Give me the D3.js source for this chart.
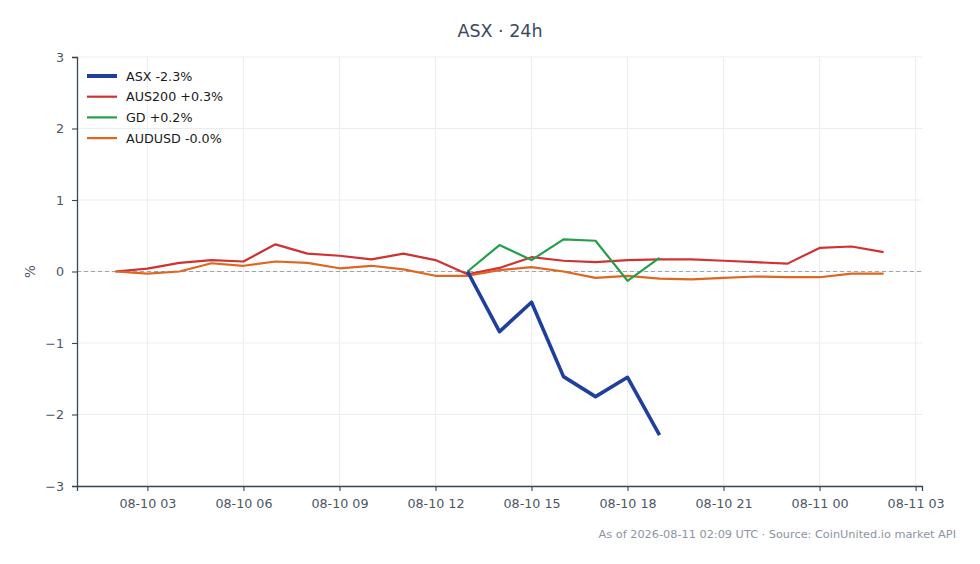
<!DOCTYPE html>
<html>
<head>
<meta charset="utf-8">
<script src="https://cdn.jsdelivr.net/npm/d3@7"></script>
<style>
  html, body { margin: 0; padding: 0; background: #ffffff; }
  svg { display: block; font-family: "DejaVu Sans", sans-serif; }
</style>
</head>
<body>
<div id="chart"></div>
<script>
"use strict";

// hourly timestamps, 08-10 02:00 UTC .. 08-11 02:00 UTC
var startTime = Date.UTC(2026, 7, 10, 2);
var hourCount = 25;

// percent change series
var aus200Values = [0, 0.04, 0.12, 0.16, 0.14, 0.38, 0.25, 0.22, 0.17, 0.25, 0.16, -0.04,
    0.05, 0.2, 0.15, 0.13, 0.16, 0.17, 0.17, 0.15, 0.13, 0.11, 0.33, 0.35, 0.27];
var audusdValues = [0, -0.03, 0, 0.115, 0.08, 0.14, 0.12, 0.045, 0.08, 0.03, -0.06, -0.06,
    0.02, 0.06, 0, -0.09, -0.06, -0.1, -0.11, -0.09, -0.07, -0.08, -0.08, -0.03, -0.03];
// these two start at 13:00 (index 11)
var gdValues = [0, 0.37, 0.16, 0.45, 0.43, -0.13, 0.19];
var asxValues = [0, -0.84, -0.43, -1.47, -1.75, -1.48, -2.29];
var lateStart = 11;

var seriesNames = ["ASX -2.3%", "AUS200 +0.3%", "GD +0.2%", "AUDUSD -0.0%"];
var seriesColours = ["#1f3f9e", "#d03232", "#23a04c", "#e0661f"];
var yTicks = [-3, -2, -1, 0, 1, 2, 3];

var width = 980;
var height = 564;
var margin = { top: 57, right: 58, bottom: 78, left: 77 };
var plotW = width - margin.left - margin.right;
var plotH = height - margin.top - margin.bottom;

function hourAt(i) {
    return new Date(startTime + i * 3600 * 1000);
}

function toPoints(values, offset) {
    return values.map(function (v, i) {
        return { t: hourAt(i + offset), v: v };
    });
}

var series = [
    { name: seriesNames[0], colour: seriesColours[0], width: 3.6, points: toPoints(asxValues, lateStart) },
    { name: seriesNames[1], colour: seriesColours[1], width: 2.2, points: toPoints(aus200Values, 0) },
    { name: seriesNames[2], colour: seriesColours[2], width: 2.2, points: toPoints(gdValues, lateStart) },
    { name: seriesNames[3], colour: seriesColours[3], width: 2.2, points: toPoints(audusdValues, 0) }
];

var svg = d3.select("#chart").append("svg")
    .attr("width", width)
    .attr("height", height);

// 5% padding each side, like the source
var first = hourAt(0).getTime();
var last = hourAt(hourCount - 1).getTime();
var pad = (last - first) * 0.05;

var x = d3.scaleUtc()
    .domain([new Date(first - pad), new Date(last + pad)])
    .range([margin.left, margin.left + plotW]);

var y = d3.scaleLinear()
    .domain([-3, 3])
    .range([margin.top + plotH, margin.top]);

var xTicks = x.ticks(d3.utcHour.every(3));
var fmt = d3.utcFormat("%m-%d %H");

//grid lines
var grid = svg.append("g").attr("class", "grid");
grid.selectAll("line.gx").data(xTicks).enter().append("line")
    .attr("x1", function (d) { return x(d); })
    .attr("x2", function (d) { return x(d); })
    .attr("y1", margin.top)
    .attr("y2", margin.top + plotH)
    .style("stroke", "#e9edf2")
    .style("stroke-width", 1);
grid.selectAll("line.gy").data(yTicks).enter().append("line")
    .attr("x1", margin.left)
    .attr("x2", margin.left + plotW)
    .attr("y1", function (d) { return y(d); })
    .attr("y2", function (d) { return y(d); })
    .style("stroke", "#e9edf2")
    .style("stroke-width", 1);

//zero reference line
svg.append("line")
    .attr("x1", margin.left)
    .attr("x2", margin.left + plotW)
    .attr("y1", y(0))
    .attr("y2", y(0))
    .style("stroke", "#9aa5b4")
    .style("stroke-width", 1.2)
    .style("stroke-dasharray", "4,3");

//axes
var xAxis = svg.append("g")
    .attr("transform", "translate(0," + (margin.top + plotH) + ")")
    .call(d3.axisBottom(x).tickValues(xTicks).tickFormat(fmt).tickSize(5).tickPadding(8));
var yAxis = svg.append("g")
    .attr("transform", "translate(" + margin.left + ",0)")
    .call(d3.axisLeft(y).tickValues(yTicks).tickFormat(d3.format("d")).tickSize(5).tickPadding(8));

[xAxis, yAxis].forEach(function (ax) {
    ax.select(".domain").style("stroke", "#3a4656").style("stroke-width", 1.3);
    ax.selectAll(".tick line").style("stroke", "#3a4656").style("stroke-width", 1.1);
    ax.selectAll(".tick text")
        .style("fill", "#4a5566")
        .style("font-size", "12.7px")
        .style("font-family", "'DejaVu Sans', sans-serif");
});
// the picture uses a real minus sign
yAxis.selectAll(".tick text").text(function (d) { return d < 0 ? "\u2212" + Math.abs(d) : d; });

//lines
var line = d3.line()
    .x(function (d) { return x(d.t); })
    .y(function (d) { return y(d.v); });

// draw blue last so it sits on top
[1, 3, 2, 0].forEach(function (k) {
    var s = series[k];
    svg.append("path")
        .datum(s.points)
        .attr("d", line)
        .style("fill", "none")
        .style("stroke", s.colour)
        .style("stroke-width", s.width)
        .style("stroke-linejoin", "round");
});

//legend
var legend = svg.append("g").attr("transform", "translate(87,76)");
var items = legend.selectAll("g.item").data(series).enter().append("g")
    .attr("transform", function (d, i) { return "translate(0," + (i * 20.7) + ")"; });
items.append("line")
    .attr("x1", 0).attr("x2", 30).attr("y1", 0).attr("y2", 0)
    .style("stroke", function (d) { return d.colour; })
    .style("stroke-width", function (d, i) { return i === 0 ? 4 : 2.2; });
items.append("text")
    .attr("x", 39).attr("y", 4.5)
    .style("font-size", "12.7px")
    .style("fill", "#1a1a1a")
    .text(function (d) { return d.name; });

//title and labels
svg.append("text")
    .attr("x", 500).attr("y", 37)
    .attr("text-anchor", "middle")
    .style("font-size", "17.5px")
    .style("fill", "#3d4a5c")
    .text("ASX \u00b7 24h");

svg.append("text")
    .attr("transform", "translate(35," + y(0) + ") rotate(-90)")
    .attr("text-anchor", "middle")
    .style("font-size", "13.5px")
    .style("fill", "#4a5566")
    .text("%");

svg.append("text")
    .attr("x", 956).attr("y", 538)
    .attr("text-anchor", "end")
    .style("font-size", "11.3px")
    .style("fill", "#8a94a3")
    .text("As of 2026-08-11 02:09 UTC \u00b7 Source: CoinUnited.io market API");
</script>
</body>
</html>
